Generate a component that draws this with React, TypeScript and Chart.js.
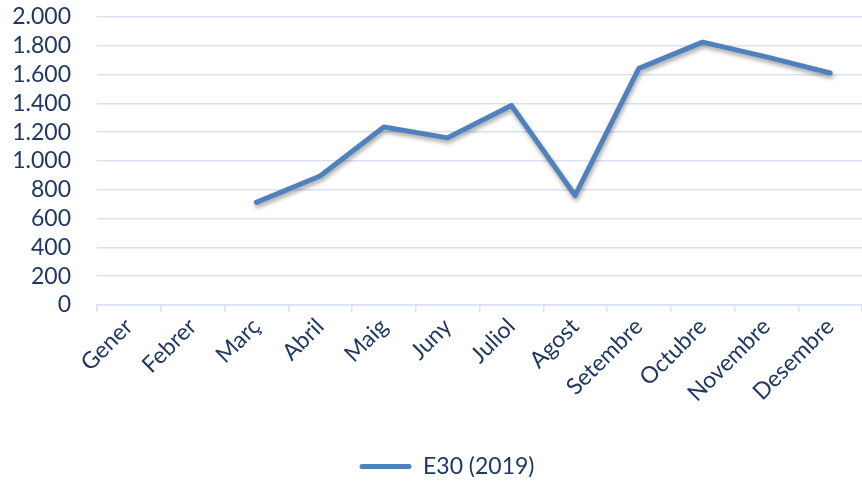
import React, { useEffect, useRef } from "react";
import { Chart, registerables } from "chart.js";

Chart.register(...registerables);

const categories = ["Gener", "Febrer", "Març", "Abril", "Maig", "Juny", "Juliol", "Agost", "Setembre", "Octubre", "Novembre", "Desembre"];
const seriesLabel = "E30 (2019)";
const seriesValues: (number | null)[] = [null, null, 712, 895, 1235, 1160, 1385, 760, 1642, 1824, 1722, 1610];
const yMin = 0;
const yMax = 2000;
const yStep = 200;

const LINE = "#4f81bd";
const TEXT = "#1f3864";
const GRID = "#d9e2f3";
const FONT = "Lato";
const FS = 23;

function fmt(v: number): string {
  return String(Math.round(v)).replace(/\B(?=(\d{3})+(?!\d))/g, ".");
}

const shadowPlugin = {
  id: "lineShadow",
  beforeDatasetDraw(chart: any) {
    const ctx = chart.ctx;
    ctx.save();
    ctx.shadowColor = "rgba(0,0,0,0.35)";
    ctx.shadowBlur = 4;
    ctx.shadowOffsetX = 1;
    ctx.shadowOffsetY = 3;
  },
  afterDatasetDraw(chart: any) {
    chart.ctx.restore();
  },
};

const legendShift = {
  id: "legendShift",
  afterLayout(chart: any) {
    const lg = chart.legend;
    if (lg) {
      lg.left += 16;
      lg.right += 16;
      lg.top += 6;
      lg.bottom += 6;
    }
  },
};

export default function App() {
  const ref = useRef<HTMLCanvasElement | null>(null);
  useEffect(() => {
    document.body.style.margin = "0";
    const chart = new Chart(ref.current!, {
      type: "line",
      data: {
        labels: categories,
        datasets: [
          {
            label: seriesLabel,
            data: seriesValues,
            borderColor: LINE,
            backgroundColor: LINE,
            borderWidth: 5,
            pointRadius: 0,
            pointHoverRadius: 0,
            borderCapStyle: "round",
            borderJoinStyle: "round",
            tension: 0,
            spanGaps: false,
          },
        ],
      },
      options: {
        animation: false,
        responsive: false,
        maintainAspectRatio: false,
        layout: { padding: { top: 5, left: 0, right: 0, bottom: 0 } },
        plugins: {
          tooltip: { enabled: false },
          legend: {
            position: "bottom",
            labels: {
              color: TEXT,
              font: { family: FONT, size: FS },
              boxWidth: 52,
              boxHeight: 5,
              padding: 10,
              generateLabels: (c: any) =>
                c.data.datasets.map((d: any, i: number) => ({
                  text: d.label,
                  fillStyle: LINE,
                  strokeStyle: LINE,
                  lineWidth: 0,
                  borderRadius: 2.5,
                  fontColor: TEXT,
                  datasetIndex: i,
                  hidden: false,
                })),
            },
          },
        },
        scales: {
          x: {
            offset: true,
            grid: {
              offset: true,
              drawOnChartArea: false,
              drawTicks: true,
              tickLength: 7,
              color: GRID,
              lineWidth: 1.5,
            },
            border: { display: true, color: GRID, width: 1.5 },
            ticks: {
              color: TEXT,
              font: { family: FONT, size: FS },
              minRotation: 45,
              maxRotation: 45,
              padding: 1,
              autoSkip: false,
            },
            afterFit: (s: any) => {
              s.height = 134;
            },
          },
          y: {
            min: yMin,
            max: yMax,
            grid: { color: GRID, lineWidth: 1.5, drawTicks: true, tickLength: 23, tickColor: "rgba(0,0,0,0)" },
            border: { display: false },
            ticks: {
              stepSize: yStep,
              color: TEXT,
              font: { family: FONT, size: FS },
              padding: 3,
              autoSkip: false,
              callback: (v: any) => fmt(Number(v)),
            },
            afterFit: (s: any) => {
              s.width = 97;
            },
          },
        },
      },
      plugins: [shadowPlugin, legendShift],
    });
    return () => chart.destroy();
  }, []);
  return (
    <div style={{ position: "fixed", left: 0, top: 0, width: 862, height: 482 }}>
      <canvas ref={ref} width={862} height={482} style={{ width: 862, height: 482 }} />
    </div>
  );
}
